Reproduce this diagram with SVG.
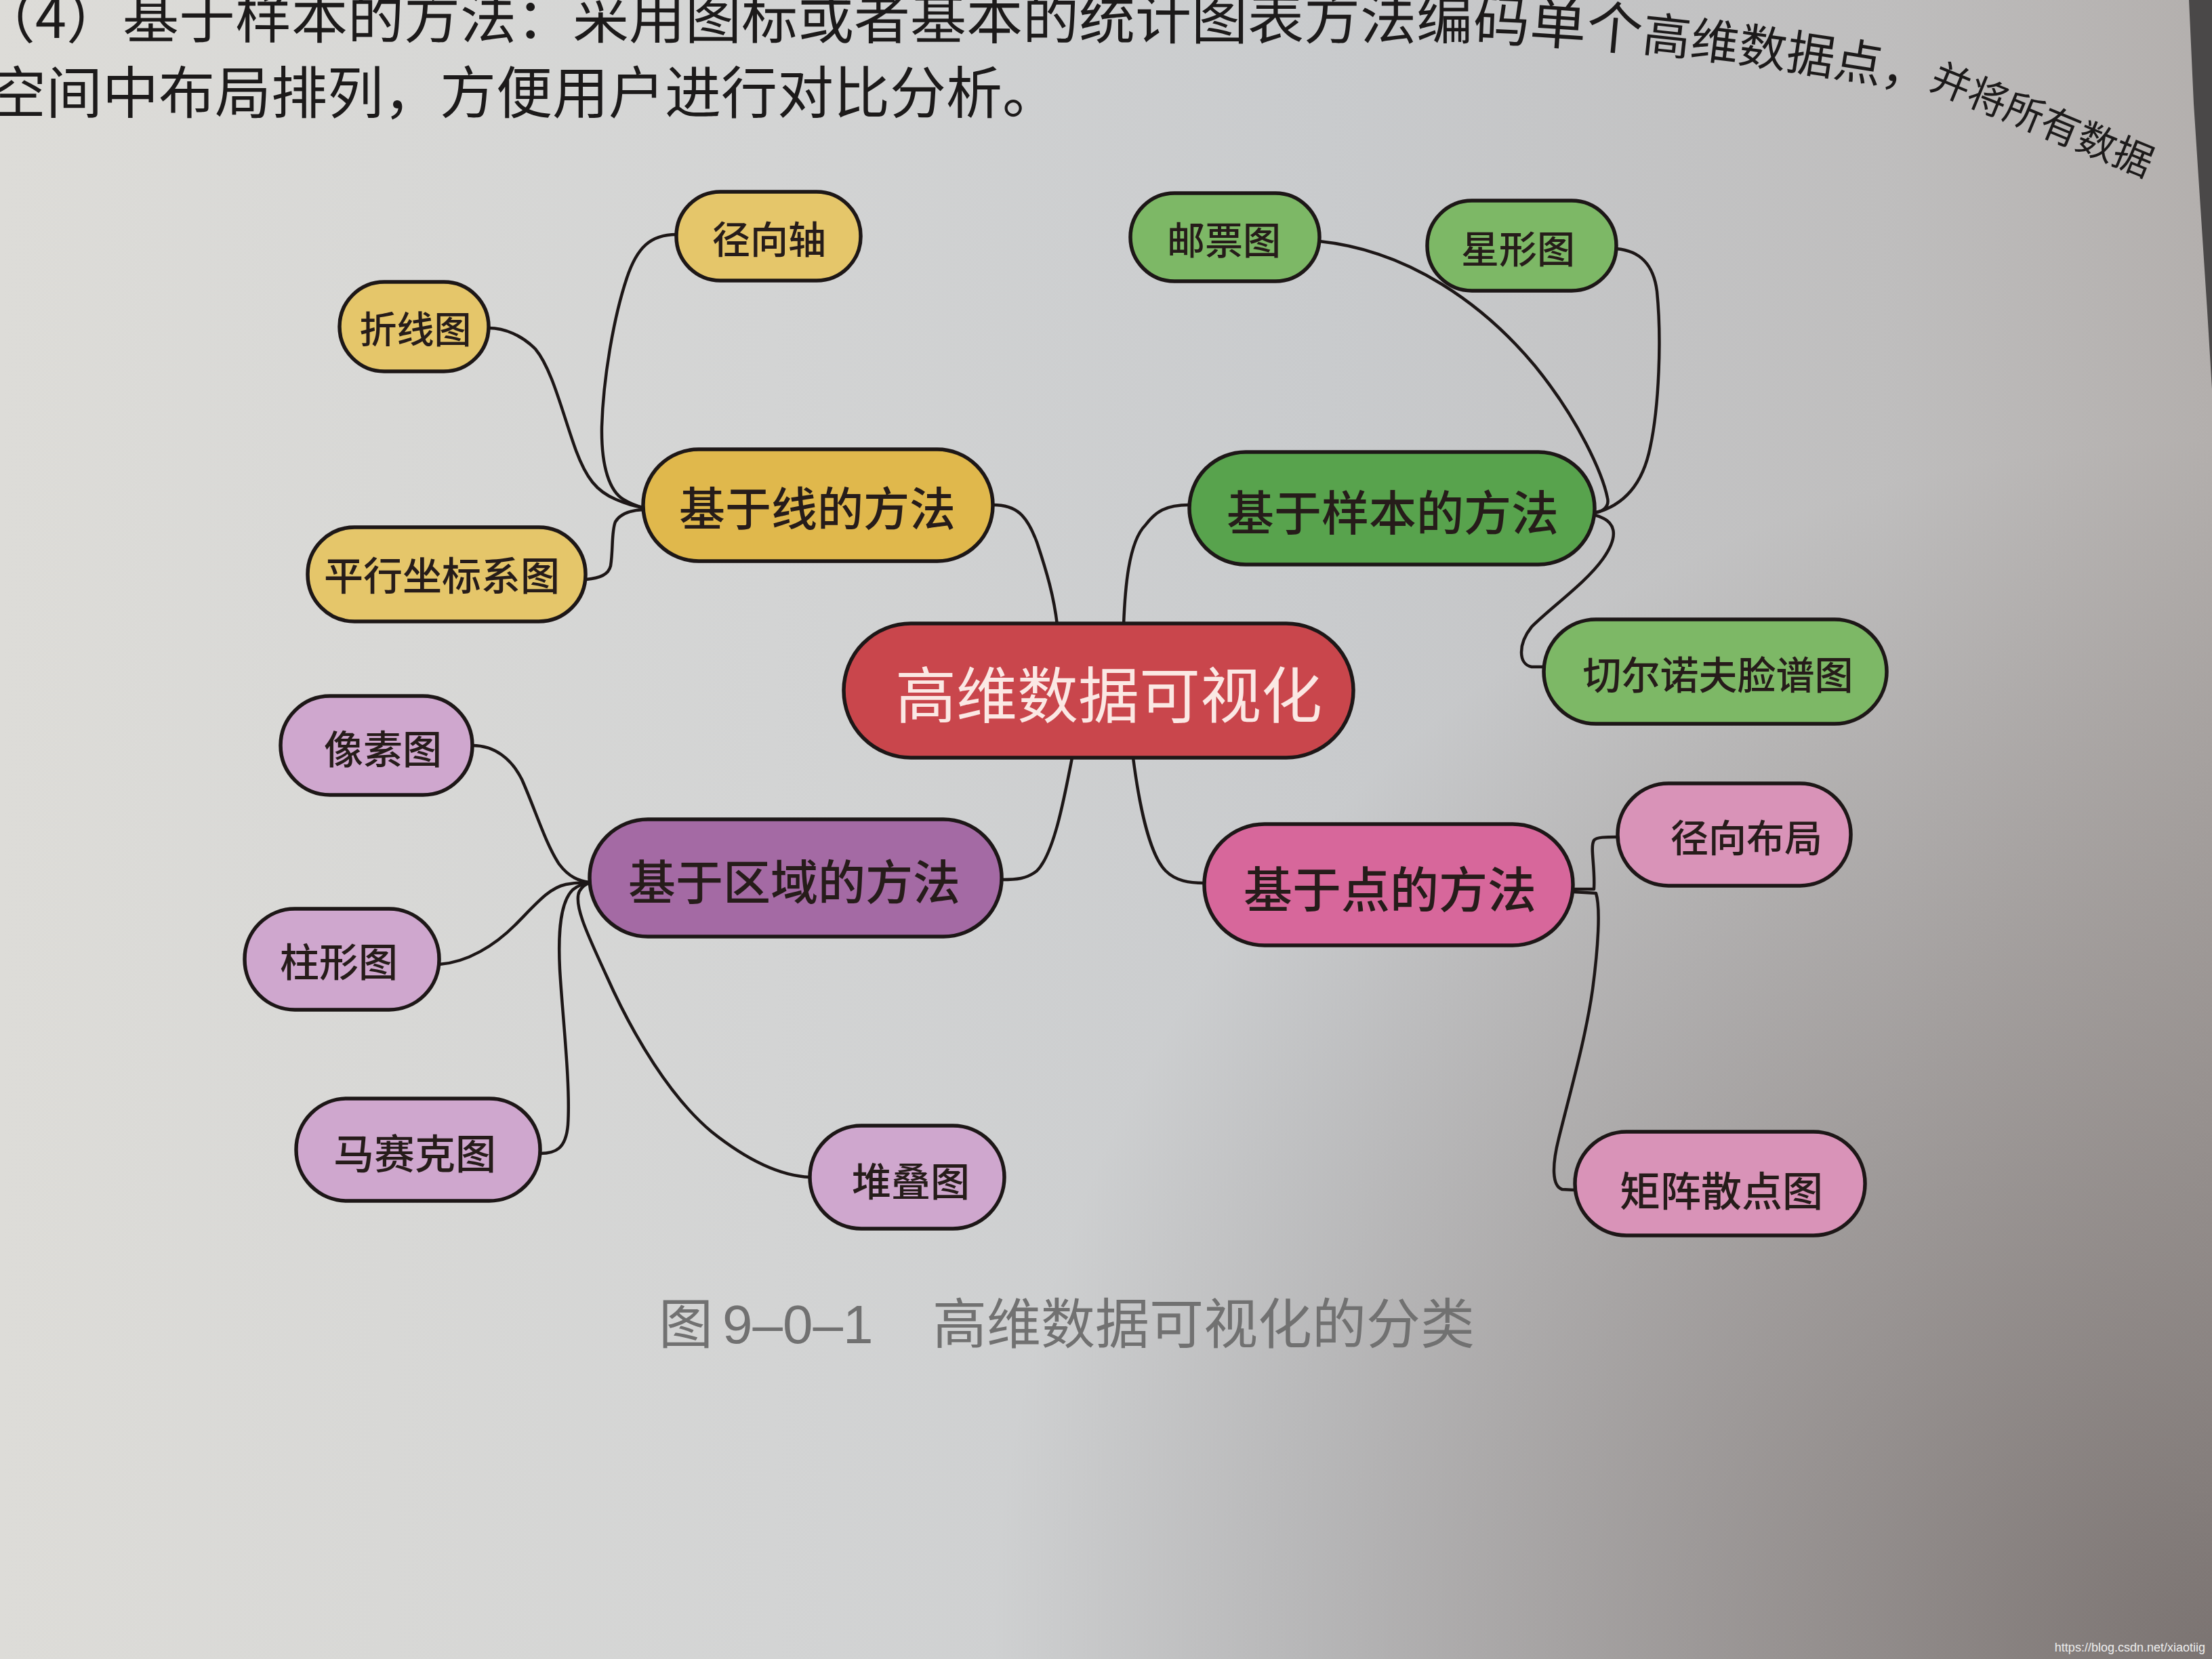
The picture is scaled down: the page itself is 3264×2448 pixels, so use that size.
<svg xmlns="http://www.w3.org/2000/svg" width="3264" height="2448" viewBox="0 0 3264 2448">
<defs>
  <linearGradient id="paper" x1="0" y1="0" x2="1" y2="0">
    <stop offset="0" stop-color="#dddcd8"/>
    <stop offset="0.35" stop-color="#d3d4d4"/>
    <stop offset="0.6" stop-color="#c9cbcd"/>
    <stop offset="0.85" stop-color="#bfbebe"/>
    <stop offset="1" stop-color="#b3afad"/>
  </linearGradient>
  <radialGradient id="shade" cx="3264" cy="2448" r="1800" gradientUnits="userSpaceOnUse">
    <stop offset="0" stop-color="#716967" stop-opacity="0.85"/>
    <stop offset="0.5" stop-color="#7a7270" stop-opacity="0.45"/>
    <stop offset="1" stop-color="#7a7270" stop-opacity="0"/>
  </radialGradient>
  <path id="line1" d="M-31,56 L2150,58 C2400,64 2650,100 2870,140 L3215,282"/>
</defs>
<style>
  .cjk { font-family: "Noto Sans CJK SC", "Noto Sans CJK JP", sans-serif; }
  .body { fill: #1c1a1a; font-size: 83px; }
  .n rect { stroke: #1d1717; stroke-width: 5.5; }
  .t { font-family: "Noto Sans CJK SC", "Noto Sans CJK JP", sans-serif; font-weight: 500; text-anchor: middle; dominant-baseline: central; fill: #261c1a; }
  #connectors path { fill: none; stroke: #1d1717; stroke-width: 4.5; stroke-linecap: round; stroke-linejoin: round; }
  .y1 { fill: #e0b84c; } .y2 { fill: #e5c66a; }
  .g1 { fill: #58a34d; } .g2 { fill: #7db866; }
  .r { fill: #c9464c; }
  .p1 { fill: #a46aa4; } .p2 { fill: #cfa7ce; }
  .k1 { fill: #d7679b; } .k2 { fill: #d993b8; }
</style>

<rect x="0" y="0" width="3264" height="2448" fill="url(#paper)"/>
<rect x="0" y="0" width="3264" height="2448" fill="url(#shade)"/>
<polygon points="3230,0 3264,0 3264,574 3257,459 3247,306 3237,153" fill="#4a4848"/>

<g id="body-text" class="cjk body">
  <text><textPath href="#line1">（4）基于样本的方法：采用图标或者基本的统计图表方法编码单个<tspan font-size="71">高维数据点，</tspan><tspan font-size="58">并将所有数据</tspan></textPath></text>
  <text x="-15" y="167">空间中布局排列，方便用户进行对比分析。</text>
</g>

<g id="connectors">
  <path d="M1465,745 C1500,745 1515,760 1530,800 C1545,845 1555,880 1560,922"/>
  <path d="M1658,922 C1660,870 1665,800 1690,775 C1705,755 1720,745 1755,745"/>
  <path d="M1582,1118 C1570,1180 1555,1260 1530,1285 C1515,1297 1500,1298 1478,1298"/>
  <path d="M1672,1118 C1680,1180 1695,1260 1720,1285 C1735,1300 1755,1303 1777,1303"/>
  <path d="M998,346 C960,346 940,365 925,410 C905,470 890,560 888,630 C887,690 900,725 920,737 C930,743 940,747 949,749"/>
  <path d="M721,484 C745,484 770,495 790,515 C815,545 830,610 850,665 C865,705 880,725 909,737 C925,744 935,747 949,749"/>
  <path d="M865,855 C885,853 898,848 901,835 C905,810 902,785 908,770 C915,758 930,753 949,752"/>
  <path d="M1947,356 C2080,370 2190,450 2265,540 C2330,620 2365,700 2372,735 C2375,748 2365,755 2353,756"/>
  <path d="M2385,367 C2420,370 2440,390 2445,430 C2452,500 2448,600 2435,660 C2425,710 2400,745 2353,757"/>
  <path d="M2353,760 C2385,768 2390,790 2365,825 C2340,860 2290,895 2260,925 C2240,950 2240,980 2260,984 L2278,984"/>
  <path d="M697,1100 C730,1100 755,1120 770,1150 C790,1195 805,1245 825,1275 C840,1295 855,1300 870,1302"/>
  <path d="M648,1423 C690,1420 730,1395 760,1365 C790,1335 810,1310 835,1305 C850,1302 860,1302 870,1303"/>
  <path d="M797,1702 C820,1702 835,1695 838,1660 C842,1600 830,1500 826,1430 C823,1370 828,1330 845,1313 C853,1306 862,1304 870,1303"/>
  <path d="M1195,1737 C1150,1735 1100,1710 1050,1670 C990,1620 935,1530 895,1440 C870,1385 845,1335 855,1315 C860,1307 865,1304 870,1303"/>
  <path d="M2321,1312 L2352,1312 C2354,1280 2346,1250 2352,1240 C2356,1235 2370,1235 2387,1235"/>
  <path d="M2321,1316 L2355,1318 C2362,1340 2358,1400 2350,1460 C2340,1530 2320,1600 2300,1680 C2290,1720 2290,1750 2305,1755 L2324,1756"/>
</g>

<g id="node-center" class="n">
  <rect class="r" x="1245" y="920" width="752" height="198" rx="99"/>
  <text class="t" x="1636" y="1020" font-size="90" style="fill:#fbe8e4;font-weight:400">高维数据可视化</text>
</g>

<g id="node-line" class="n">
  <rect class="y1" x="949" y="663" width="516" height="165" rx="82"/>
  <text class="t" x="1206" y="746" font-size="68">基于线的方法</text>
</g>
<g id="node-radial-axis" class="n">
  <rect class="y2" x="998" y="283" width="272" height="131" rx="65"/>
  <text class="t" x="1135" y="349" font-size="56">径向轴</text>
</g>
<g id="node-polyline" class="n">
  <rect class="y2" x="501" y="416" width="220" height="132" rx="66"/>
  <text class="t" x="613" y="482" font-size="55">折线图</text>
</g>
<g id="node-parallel" class="n">
  <rect class="y2" x="454" y="778" width="410" height="139" rx="69"/>
  <text class="t" x="652" y="846" font-size="58">平行坐标系图</text>
</g>

<g id="node-sample" class="n">
  <rect class="g1" x="1755" y="667" width="598" height="166" rx="83"/>
  <text class="t" x="2055" y="752" font-size="70">基于样本的方法</text>
</g>
<g id="node-stamp" class="n">
  <rect class="g2" x="1668" y="285" width="279" height="130" rx="65"/>
  <text class="t" x="1806" y="350" font-size="56">邮票图</text>
</g>
<g id="node-star" class="n">
  <rect class="g2" x="2106" y="296" width="279" height="133" rx="66"/>
  <text class="t" x="2240" y="363" font-size="56">星形图</text>
</g>
<g id="node-chernoff" class="n">
  <rect class="g2" x="2278" y="914" width="506" height="154" rx="77"/>
  <text class="t" x="2535" y="992" font-size="57">切尔诺夫脸谱图</text>
</g>

<g id="node-region" class="n">
  <rect class="p1" x="870" y="1209" width="608" height="173" rx="86"/>
  <text class="t" x="1172" y="1297" font-size="70">基于区域的方法</text>
</g>
<g id="node-pixel" class="n">
  <rect class="p2" x="414" y="1027" width="283" height="146" rx="73"/>
  <text class="t" x="565" y="1102" font-size="58">像素图</text>
</g>
<g id="node-bar" class="n">
  <rect class="p2" x="361" y="1341" width="287" height="149" rx="74"/>
  <text class="t" x="500" y="1416" font-size="58">柱形图</text>
</g>
<g id="node-mosaic" class="n">
  <rect class="p2" x="437" y="1621" width="360" height="151" rx="75"/>
  <text class="t" x="612" y="1698" font-size="60">马赛克图</text>
</g>
<g id="node-stack" class="n">
  <rect class="p2" x="1195" y="1661" width="287" height="152" rx="76"/>
  <text class="t" x="1344" y="1740" font-size="58">堆叠图</text>
</g>

<g id="node-point" class="n">
  <rect class="k1" x="1777" y="1216" width="544" height="179" rx="89"/>
  <text class="t" x="2051" y="1307" font-size="72">基于点的方法</text>
</g>
<g id="node-radial-layout" class="n">
  <rect class="k2" x="2387" y="1156" width="344" height="151" rx="75"/>
  <text class="t" x="2577" y="1232" font-size="56">径向布局</text>
</g>
<g id="node-scatter" class="n">
  <rect class="k2" x="2324" y="1670" width="428" height="153" rx="76"/>
  <text class="t" x="2540" y="1753" font-size="60">矩阵散点图</text>
</g>

<g id="caption" class="cjk" fill="#717171" font-size="80">
  <text y="1982"><tspan x="972">图</tspan><tspan x="1066" font-family="Liberation Sans, sans-serif">9–0–1</tspan><tspan x="1376">高维数据可视化的分类</tspan></text>
</g>

<text x="3254" y="2437" text-anchor="end" font-family="Liberation Sans, Arial, sans-serif" font-size="18" fill="#ececec">https://blog.csdn.net/xiaotiig</text>
</svg>
